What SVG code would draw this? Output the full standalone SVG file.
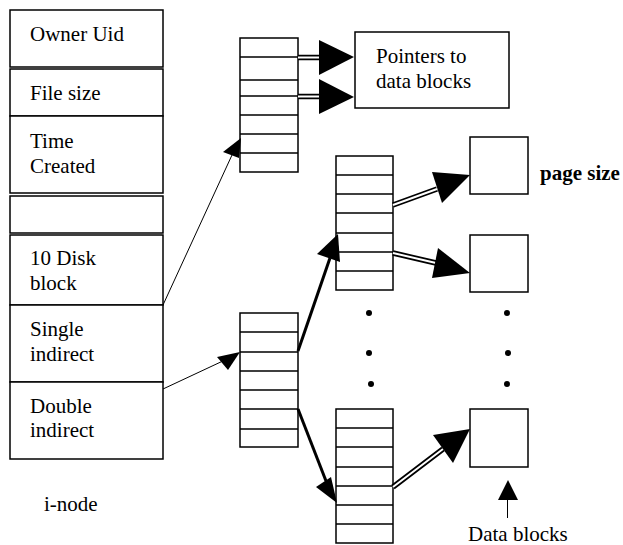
<svg xmlns="http://www.w3.org/2000/svg" width="623" height="545" viewBox="0 0 623 545">
<style>
.box{fill:#fff;stroke:#000;stroke-width:1.5}
.row{stroke:#000;stroke-width:1.5}
.t{font-family:'Liberation Serif','Times New Roman','DejaVu Serif',serif;font-size:21px;fill:#000}
.b{font-weight:bold}
.thin{stroke:#000;stroke-width:1;fill:none}
.thick{stroke:#000;stroke-width:3;fill:none}
.dblo{stroke:#000;stroke-width:5.5;fill:none}
.dbli{stroke:#fff;stroke-width:2;fill:none}
.head{fill:#000}
</style>
<rect width="623" height="545" fill="#fff"/>
<g id="inode">
<rect class="box" x="10" y="10" width="153" height="57"/>
<rect class="box" x="10" y="69" width="153" height="47"/>
<rect class="box" x="10" y="116" width="153" height="77"/>
<rect class="box" x="10" y="196" width="153" height="37"/>
<rect class="box" x="10" y="235" width="153" height="70"/>
<rect class="box" x="10" y="305" width="153" height="77"/>
<rect class="box" x="10" y="382" width="153" height="77"/>
<text class="t" x="30" y="41" font-family="Liberation Serif, serif">Owner Uid</text>
<text class="t" x="30" y="100" font-family="Liberation Serif, serif">File size</text>
<text class="t" x="30" y="148" font-family="Liberation Serif, serif">Time</text>
<text class="t" x="30" y="173" font-family="Liberation Serif, serif">Created</text>
<text class="t" x="30" y="265" font-family="Liberation Serif, serif">10 Disk</text>
<text class="t" x="30" y="290" font-family="Liberation Serif, serif">block</text>
<text class="t" x="30" y="336" font-family="Liberation Serif, serif">Single</text>
<text class="t" x="30" y="361" font-family="Liberation Serif, serif">indirect</text>
<text class="t" x="30" y="413" font-family="Liberation Serif, serif">Double</text>
<text class="t" x="30" y="437" font-family="Liberation Serif, serif">indirect</text>
<text class="t" x="44" y="511" font-family="Liberation Serif, serif">i-node</text>
</g>
<g id="single-block">
<rect class="box" x="240" y="38" width="58" height="134"/>
<path class="row" d="M240 57H298M240 80H298M240 96H298M240 115H298M240 134H298M240 153H298"/>
</g>
<g id="pointers">
<rect class="box" x="355" y="32" width="154" height="76"/>
<text class="t" x="376" y="63" font-family="Liberation Serif, serif">Pointers to</text>
<text class="t" x="376" y="88" font-family="Liberation Serif, serif">data blocks</text>
</g>
<g id="double-block">
<rect class="box" x="240" y="313" width="58" height="134"/>
<path class="row" d="M240 332H298M240 352H298M240 371H298M240 390H298M240 409H298M240 429H298"/>
</g>
<g id="indirect-top">
<rect class="box" x="336" y="156" width="57" height="134"/>
<path class="row" d="M336 175H393M336 194H393M336 213H393M336 233H393M336 252H393M336 271H393"/>
</g>
<g id="indirect-bottom">
<rect class="box" x="336" y="409" width="57" height="134"/>
<path class="row" d="M336 428H393M336 447H393M336 467H393M336 486H393M336 505H393M336 524H393"/>
</g>
<g id="data1">
<rect class="box" x="470" y="137" width="58" height="57"/>
<text class="t b" x="540" y="180" font-family="Liberation Serif, serif">page size</text>
</g>
<g id="data2">
<rect class="box" x="470" y="235" width="58" height="57"/>
</g>
<g id="data3">
<rect class="box" x="470" y="409" width="58" height="58"/>
<text class="t" x="468" y="541" font-family="Liberation Serif, serif">Data blocks</text>
</g>
<g id="dots">
<circle cx="369" cy="313" r="3"/>
<circle cx="369" cy="353" r="3"/>
<circle cx="371" cy="384" r="3"/>
<circle cx="507" cy="313" r="3"/>
<circle cx="508" cy="353" r="3"/>
<circle cx="507" cy="384" r="3"/>
</g>
<g id="connectors">
<line class="thin" x1="163" y1="305" x2="232" y2="155"/>
<polygon class="head" points="241,138 223,152 239,158"/>
<line class="thin" x1="163" y1="389" x2="225" y2="360"/>
<polygon class="head" points="240,352 217,357 228,370"/>
<line class="thick" x1="298" y1="351" x2="330" y2="258"/>
<polygon class="head" points="338,234 317,254 340,262"/>
<line class="thick" x1="298" y1="409" x2="326" y2="481"/>
<polygon class="head" points="337,503 316,487 331,477"/>
<path class="dblo" d="M298 57.5H322M298 96.5H322M393 205L437 189M393 253L436 263M393 487L443 449"/>
<path class="dbli" d="M298 57.5H322M298 96.5H322M393 205L437 189M393 253L436 263M393 487L443 449"/>
<polygon class="head" points="354,57 319,40 319,75"/>
<polygon class="head" points="354,97 319,79 319,114"/>
<polygon class="head" points="470,175 432,172 442,203"/>
<polygon class="head" points="470,273 438,248 432,278"/>
<polygon class="head" points="470,429 433,435 453,463"/>
<line class="thin" x1="507.5" y1="518" x2="507.5" y2="498" stroke-width="1.5"/>
<polygon class="head" points="508,480 498,500 518,500"/>
</g>
</svg>
